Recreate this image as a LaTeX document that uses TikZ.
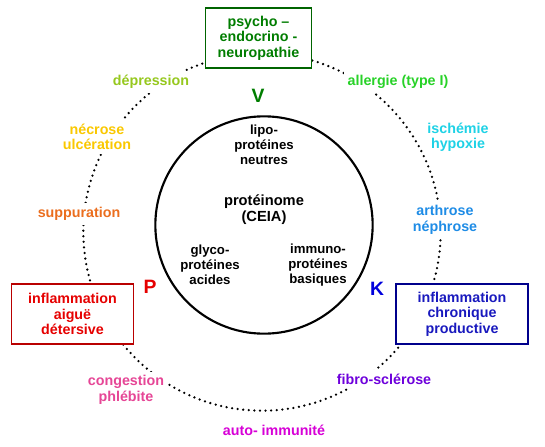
\documentclass[tikz,border=0pt]{standalone}
\usepackage{fontspec}
\setmainfont{Liberation Sans}
\definecolor{cV}{RGB}{0,125,0}
\definecolor{cVb}{RGB}{0,100,0}
\definecolor{cDep}{RGB}{150,200,30}
\definecolor{cAll}{RGB}{40,210,40}
\definecolor{cNec}{RGB}{250,200,0}
\definecolor{cIsc}{RGB}{30,210,230}
\definecolor{cSup}{RGB}{235,110,30}
\definecolor{cArt}{RGB}{30,140,230}
\definecolor{cP}{RGB}{230,0,0}
\definecolor{cPb}{RGB}{185,0,0}
\definecolor{cCon}{RGB}{230,70,150}
\definecolor{cFib}{RGB}{110,0,220}
\definecolor{cAut}{RGB}{215,0,215}
\definecolor{cK}{RGB}{0,0,220}
\definecolor{cKt}{RGB}{25,25,190}
\definecolor{cKb}{RGB}{0,0,140}
\tikzset{
  lab/.style={font=\fontsize{10.7}{11.6}\selectfont\bfseries, align=center, fill=white, inner sep=3pt},
  inner/.style={font=\fontsize{9.9}{11.3}\selectfont\bfseries, align=center, inner sep=1pt},
  boxed/.style={lab, draw, line width=0.8pt, minimum height=45pt, inner sep=2pt},
  letter/.style={font=\fontsize{14.5}{16}\selectfont\bfseries, inner sep=1pt},
  dotring/.style={line width=1.9pt, line cap=round, dash pattern=on 0pt off 4.2pt},
}
\begin{document}
\begin{tikzpicture}[x=0.75pt,y=-0.75pt]
\useasboundingbox (0,0) rectangle (545,446);
\coordinate (c) at (262,232);
\draw[dotring] (c) circle[radius=134pt];
\node[draw, line width=1.6pt, circle, minimum size=163pt, inner sep=0pt] (core) at (264,225) {};
% inner texts
\node[inner] (lipo) at (264,145) {lipo-\\protéines\\neutres};
\node[inner, font=\fontsize{11}{12}\selectfont\bfseries] (prot) at (264,210) {protéinome\\(CEIA)};
\node[inner] (glyco) at (210,265) {glyco-\\protéines\\acides};
\node[inner] (immuno) at (318,265) {immuno-\\protéines\\basiques};
% outer ring labels
\node[boxed, text=cV, draw=cVb, minimum width=80pt] (psy) at (258.5,38) {psycho –\\endocrino -\\neuropathie};
\node[lab, text=cDep] (dep) at (151,82) {dépression};
\node[lab, text=cAll] (all) at (398,82) {allergie (type I)};
\node[lab, text=cNec] (nec) at (97,137) {nécrose\\ulcération};
\node[lab, text=cIsc] (isc) at (458,137) {ischémie\\hypoxie};
\node[lab, text=cSup] (sup) at (79,214) {suppuration};
\node[lab, text=cArt] (art) at (445,220) {arthrose\\néphrose};
\node[boxed, text=cP, draw=cPb, minimum width=91pt] (aig) at (72.5,314) {inflammation\\aiguë\\détersive};
\node[boxed, text=cKt, draw=cKb, minimum width=99pt] (chr) at (462,314) {inflammation\\chronique\\productive};
\node[lab, text=cCon] (con) at (126,390) {congestion\\phlébite};
\node[lab, text=cFib] (fib) at (384,379) {fibro-sclérose};
\node[lab, text=cAut] (aut) at (274,430) {auto- immunité};
% letters
\node[letter, text=cV] (V) at (258,96) {V};
\node[letter, text=cP] (P) at (150,287) {P};
\node[letter, text=cK] (K) at (377,289) {K};
\end{tikzpicture}
\end{document}
